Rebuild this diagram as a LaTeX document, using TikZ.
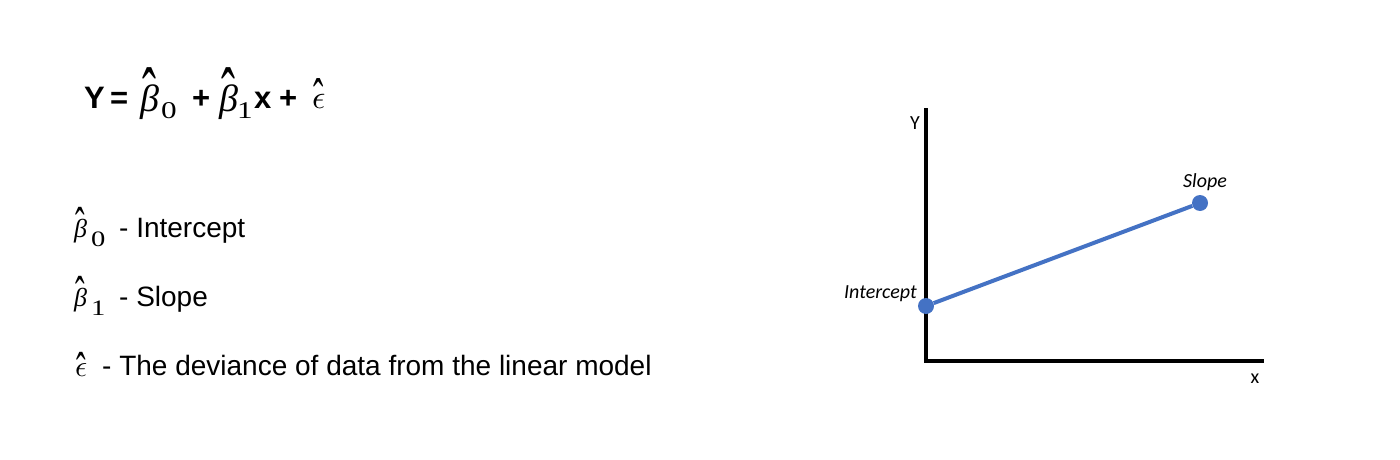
\documentclass[tikz,border=0pt]{standalone}
\usepackage{fontspec}
\setmainfont{Liberation Sans}
\newfontfamily\tmsfont{Liberation Serif}
\newfontfamily\subfont{Liberation Serif}[FakeStretch=1.3]
\newfontfamily\calfont{Carlito}
\definecolor{lineblue}{HTML}{4472C4}
% hat glyph: modifier circumflex from the serif face, made taller
\newcommand\hatglyph{{\tmsfont\upshape\scalebox{1.1}[2]{ˆ}}}
% beta with hat: #1 = font size
\newcommand\bhat[1]{{\fontsize{#1}{#1}\selectfont\tmsfont\itshape
  \ooalign{β\cr\hidewidth\raisebox{-0.25em}{\hatglyph}\hidewidth\cr}}}
% epsilon with hat: #1 = scale, #2 = font size of hat, #3 = raise
\newcommand\ehat[3]{{\fontsize{#2}{#2}\selectfont
  \ooalign{\scalebox{#1}{\normalsize$\epsilon$}\cr\hidewidth\raisebox{#3}{\hatglyph}\hidewidth\cr}}}
\tikzset{
  eqtok/.style={inner sep=0pt, anchor=base west, font=\bfseries\fontsize{31}{34}\selectfont},
  eqmath/.style={inner sep=0pt, anchor=base west},
  eqsub/.style={inner sep=0pt, anchor=base west, font=\subfont\fontsize{24}{26}\selectfont},
  legtxt/.style={inner sep=0pt, anchor=base west, font=\fontsize{28}{34}\selectfont},
  legmath/.style={inner sep=0pt, anchor=base west},
  legsub/.style={inner sep=0pt, anchor=base west, font=\subfont\fontsize{22}{24}\selectfont},
  axis/.style={line width=4pt, black},
  regline/.style={line width=4pt, lineblue},
  dotmark/.style={circle, fill=lineblue, inner sep=0pt, minimum size=16pt},
  chartlbl/.style={inner sep=0pt, font=\fontsize{20}{24}\selectfont\calfont},
}
\begin{document}
\begin{tikzpicture}[x=1pt, y=-1pt]
\useasboundingbox (0,0) rectangle (1400,460);
% equation
\node[eqtok] (eY) at (84,108) {Y};
\node[eqtok] (eEq) at (110,108) {=};
\node[eqmath] (eB0) at (140,111) {\bhat{38}};
\node[eqsub] (eS0) at (161,118) {0};
\node[eqtok] (eP1) at (192,108) {+};
\node[eqmath] (eB1) at (219,111) {\bhat{38}};
\node[eqsub] (eS1) at (237,118) {1};
\node[eqtok] (eX) at (254,108) {x};
\node[eqtok] (eP2) at (279,108) {+};
\node[eqmath] (eE) at (312,108) {\ehat{3.3}{28}{-9pt}};
% legend
\node[legmath] (b0) at (74,237) {\bhat{26}};
\node[legsub] (b0s) at (91,246) {0};
\node[legtxt] (b0t) at (119,237) {- Intercept};
\node[legmath] (b1) at (74,306) {\bhat{26}};
\node[legsub] (b1s) at (91,315) {1};
\node[legtxt] (b1t) at (119,306) {- Slope};
\node[legmath] (ep) at (75,376) {\ehat{3.0}{26}{-12pt}};
\node[legtxt] (ept) at (102,375) {- The deviance of data from the linear model};
% chart
\coordinate (ytop) at (926,108);
\coordinate (orig) at (926,361);
\coordinate (xend) at (1264,361);
\draw[axis] (ytop) -- (orig) -- (xend);
\node[dotmark] (ic) at (926,306) {};
\node[dotmark] (sl) at (1200,203) {};
\draw[regline] (ic) -- (sl);
\node[chartlbl, anchor=base] (lY) at (915,129) {Y};
\node[chartlbl, anchor=base] (lx) at (1255,383) {x};
\node[chartlbl, anchor=base east] (lI) at (917,298) {\itshape Intercept};
\node[chartlbl, anchor=base] (lS) at (1205,187) {\itshape Slope};
\end{tikzpicture}
\end{document}
